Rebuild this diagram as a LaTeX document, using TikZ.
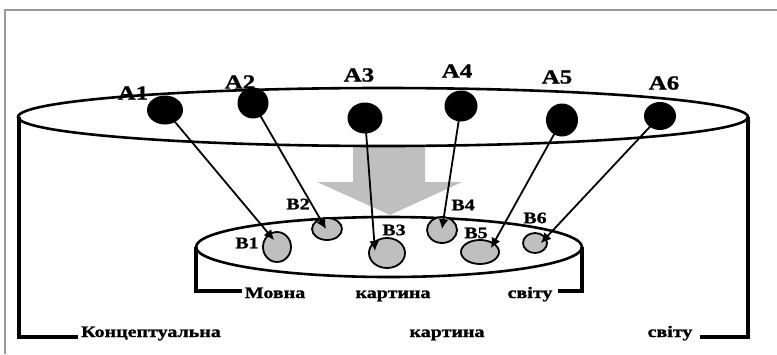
\documentclass[tikz,border=0pt]{standalone}
\usepackage{fontspec}
\setmainfont{Liberation Serif}[FakeStretch=1.25,BoldFeatures={FakeBold=1.2}]
\usetikzlibrary{arrows.meta,shapes.geometric}
\begin{document}
\begin{tikzpicture}[x=1pt,y=-1pt,
  dotA/.style={ellipse,fill=black,inner sep=0pt},
  dotB/.style={ellipse,fill=gray!50,draw=black,line width=1.8pt,inner sep=0pt},
  lblA/.style={font=\fontsize{20}{22}\selectfont\bfseries,inner sep=0pt},
  lblB/.style={font=\fontsize{16}{18}\selectfont\bfseries,inner sep=0pt},
  lblT/.style={font=\fontsize{16}{18}\selectfont\bfseries,inner sep=0pt,anchor=base},
  conn/.style={line width=1.8pt,-{Latex[length=10pt,width=10pt]}},
  rim/.style={line width=2.6pt},
  brk/.style={line width=3.4pt}]
\useasboundingbox (0,0) rectangle (777,354);
% frame
\draw[gray!80,line width=1.8pt] (5,354) -- (5,10) -- (777,10);
% gray arrow
\fill[gray!50] (353,147) -- (425,147) -- (425,182) -- (462,182) -- (390,215) -- (317,182) -- (353,182) -- cycle;
% big ellipse and cylinder
\draw[rim] (383,117) ellipse [x radius=365, y radius=29];
\draw[brk] (19,117) -- (19,337) -- (78,337);
\draw[brk] (748,117) -- (748,337) -- (700,337);
\node[lblT] (c1) at (151,337) {Концептуальна};
\node[lblT] (c2) at (447,337) {картина};
\node[lblT] (c3) at (670,337) {світу};
% small ellipse and cylinder
\draw[rim] (389,247) ellipse [x radius=193, y radius=30];
\draw[brk] (196,247) -- (196,291) -- (242,291);
\draw[brk] (582,247) -- (582,291) -- (558,291);
\node[lblT] (m1) at (275,298) {Мовна};
\node[lblT] (m2) at (393,298) {картина};
\node[lblT] (m3) at (530,298) {світу};
% B circles
\node[dotB,minimum width=28pt,minimum height=30pt] (b1) at (277,247) {};
\node[dotB,minimum width=30pt,minimum height=22pt] (b2) at (327,229) {};
\node[dotB,minimum width=36pt,minimum height=30pt] (b3) at (387,253) {};
\node[dotB,minimum width=30pt,minimum height=26pt] (b4) at (442,230) {};
\node[dotB,minimum width=38pt,minimum height=24pt] (b5) at (480,252) {};
\node[dotB,minimum width=24pt,minimum height=20pt] (b6) at (535,243) {};
\node[lblB] (lb1) at (247,243) {B1};
\node[lblB] (lb2) at (298,204) {B2};
\node[lblB] (lb3) at (394,230) {B3};
\node[lblB] (lb4) at (463,205) {B4};
\node[lblB] (lb5) at (476,233) {B5};
\node[lblB] (lb6) at (535,218) {B6};
% arrow targets
\coordinate (t1) at (274,240);
\coordinate (t2) at (326,229);
\coordinate (t3) at (375,251);
\coordinate (t4) at (442,229);
\coordinate (t5) at (491,248);
\coordinate (t6) at (541,243);
% A dot positions
\coordinate (p1) at (165,110);
\coordinate (p2) at (253,103);
\coordinate (p3) at (365,118);
\coordinate (p4) at (461,106);
\coordinate (p5) at (562,120);
\coordinate (p6) at (660,116);
\draw[conn] (p1) -- (t1);
\draw[conn] (p2) -- (t2);
\draw[conn] (p3) -- (t3);
\draw[conn] (p4) -- (t4);
\draw[conn] (p5) -- (t5);
\draw[conn] (p6) -- (t6);
\node[dotA,minimum width=36pt,minimum height=29pt] (a1) at (p1) {};
\node[dotA,minimum width=31pt,minimum height=31pt] (a2) at (p2) {};
\node[dotA,minimum width=35pt,minimum height=31pt] (a3) at (p3) {};
\node[dotA,minimum width=33pt,minimum height=31pt] (a4) at (p4) {};
\node[dotA,minimum width=32pt,minimum height=33pt] (a5) at (p5) {};
\node[dotA,minimum width=32pt,minimum height=28pt] (a6) at (p6) {};
\node[lblA] (la1) at (133,93) {A1};
\node[lblA] (la2) at (240,82) {A2};
\node[lblA] (la3) at (359,75) {A3};
\node[lblA] (la4) at (457,71) {A4};
\node[lblA] (la5) at (557,77) {A5};
\node[lblA] (la6) at (664,83) {A6};
\end{tikzpicture}
\end{document}
